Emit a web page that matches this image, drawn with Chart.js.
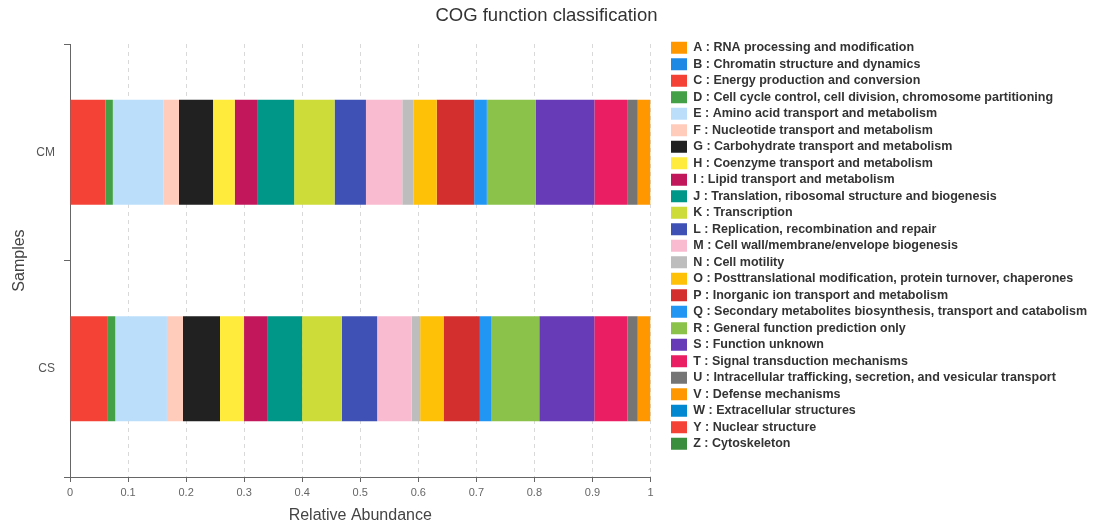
<!DOCTYPE html>
<html>
<head>
<meta charset="utf-8">
<title>COG function classification</title>
<script src="https://cdn.jsdelivr.net/npm/chart.js@4/dist/chart.umd.min.js"></script>
<style>
  html, body { margin: 0; padding: 0; background: #fff; }
  #wrap { width: 1093px; height: 530px; }
</style>
</head>
<body>
<div id="wrap"><canvas id="cog" width="1093" height="530"></canvas></div>
<script>
// samples on the y axis
const samples = ['CM', 'CS'];

// COG category letters and names (legend order, also stack order)
const cogCodes = ['A', 'B', 'C', 'D', 'E', 'F', 'G', 'H', 'I', 'J', 'K', 'L', 'M',
  'N', 'O', 'P', 'Q', 'R', 'S', 'T', 'U', 'V', 'W', 'Y', 'Z'];
const cogNames = [
  'RNA processing and modification',
  'Chromatin structure and dynamics',
  'Energy production and conversion',
  'Cell cycle control, cell division, chromosome partitioning',
  'Amino acid transport and metabolism',
  'Nucleotide transport and metabolism',
  'Carbohydrate transport and metabolism',
  'Coenzyme transport and metabolism',
  'Lipid transport and metabolism',
  'Translation, ribosomal structure and biogenesis',
  'Transcription',
  'Replication, recombination and repair',
  'Cell wall/membrane/envelope biogenesis',
  'Cell motility',
  'Posttranslational modification, protein turnover, chaperones',
  'Inorganic ion transport and metabolism',
  'Secondary metabolites biosynthesis, transport and catabolism',
  'General function prediction only',
  'Function unknown',
  'Signal transduction mechanisms',
  'Intracellular trafficking, secretion, and vesicular transport',
  'Defense mechanisms',
  'Extracellular structures',
  'Nuclear structure',
  'Cytoskeleton'
];

// relative abundance per category
const cmValues = [0, 0, 0.0612, 0.0126, 0.0875, 0.0264, 0.0587, 0.0374, 0.0397, 0.0626,
  0.0697, 0.0540, 0.0626, 0.0190, 0.0404, 0.0644, 0.0219, 0.0846, 0.1006, 0.0564,
  0.0183, 0.0220, 0, 0, 0];
const csValues = [0, 0, 0.0652, 0.0128, 0.0890, 0.0276, 0.0638, 0.0414, 0.0397, 0.0603,
  0.0684, 0.0609, 0.0593, 0.0148, 0.0403, 0.0626, 0.0202, 0.0821, 0.0948, 0.0569,
  0.0179, 0.0220, 0, 0, 0];

// x axis ticks
const xTicks = [0, 0.1, 0.2, 0.3, 0.4, 0.5, 0.6, 0.7, 0.8, 0.9, 1];

const cogColors = ['#ff9800', '#1e88e5', '#f44336', '#43a047', '#bbdefb', '#ffccbc',
  '#212121', '#ffeb3b', '#c2185b', '#009688', '#cddc39', '#3f51b5', '#f8bbd0',
  '#bdbdbd', '#ffc107', '#d32f2f', '#2196f3', '#8bc34a', '#673ab7', '#e91e63',
  '#757575', '#ff9800', '#0288d1', '#f44336', '#388e3c'];

const datasets = cogCodes.map((code, i) => ({
  label: code + ' : ' + cogNames[i],
  data: [cmValues[i], csValues[i]],
  backgroundColor: cogColors[i],
  borderWidth: 0,
  barPercentage: 0.485,
  categoryPercentage: 1
}));

// legend sits in a fixed column to the right of the plot
const LEGEND_SPACE = 442.5;
const LEGEND_DX = 16.5;
const LEGEND_DY = 37.5;
const legendColumn = {
  id: 'legendColumn',
  beforeLayout(chart) {
    const lg = chart.legend;
    if (!lg || lg.fixedFit) return;
    const fit = lg.fit;
    lg.fit = function () {
      fit.call(this);
      this.width = LEGEND_SPACE;
    };
    lg.fixedFit = true;
  },
  afterLayout(chart) {
    const lg = chart.legend;
    lg.left += LEGEND_DX;
    lg.right += LEGEND_DX;
    lg.top += LEGEND_DY;
    lg.bottom += LEGEND_DY;
  }
};

Chart.defaults.font.family = "'Liberation Sans', Arial, sans-serif";

new Chart(document.getElementById('cog'), {
  type: 'bar',
  data: { labels: samples, datasets: datasets },
  plugins: [legendColumn],
  options: {
    indexAxis: 'y',
    responsive: false,
    devicePixelRatio: 1,
    animation: false,
    layout: { padding: 0 },
    scales: {
      x: {
        type: 'linear',
        stacked: true,
        min: 0,
        max: 1,
        afterBuildTicks: s => { s.ticks = xTicks.map(v => ({ value: v })); },
        afterFit: s => { s.height = 53; },
        grid: {
          color: '#d9d9d9',
          lineWidth: 1,
          drawTicks: true,
          tickLength: 5,
          tickColor: '#666'
        },
        border: { color: '#666', width: 1, dash: [4, 4] },
        ticks: {
          color: '#666',
          font: { size: 11 },
          padding: 4,
          callback: v => String(v)
        },
        title: {
          display: true,
          text: 'Relative Abundance',
          color: '#444',
          font: { size: 16 },
          padding: { top: 0, bottom: 4.4 }
        }
      },
      y: {
        type: 'category',
        stacked: true,
        offset: true,
        afterFit: s => { s.width = 70; },
        grid: {
          offset: true,
          drawOnChartArea: false,
          drawTicks: true,
          tickLength: 6,
          tickColor: '#666'
        },
        border: { color: '#666', width: 1 },
        ticks: { color: '#555', font: { size: 12 }, padding: 9 },
        title: {
          display: true,
          text: 'Samples',
          color: '#444',
          font: { size: 16 },
          padding: { top: 10, bottom: 0 }
        }
      }
    },
    plugins: {
      title: {
        display: true,
        text: 'COG function classification',
        color: '#333',
        font: { size: 18.5, weight: 'normal' },
        padding: { top: 5, bottom: 16.8 }
      },
      legend: {
        display: true,
        position: 'right',
        align: 'start',
        labels: {
          boxWidth: 16,
          boxHeight: 12,
          padding: 4,
          color: '#333',
          font: { size: 12.5, weight: 'bold' }
        }
      },
      tooltip: { enabled: false }
    }
  }
});
</script>
</body>
</html>
